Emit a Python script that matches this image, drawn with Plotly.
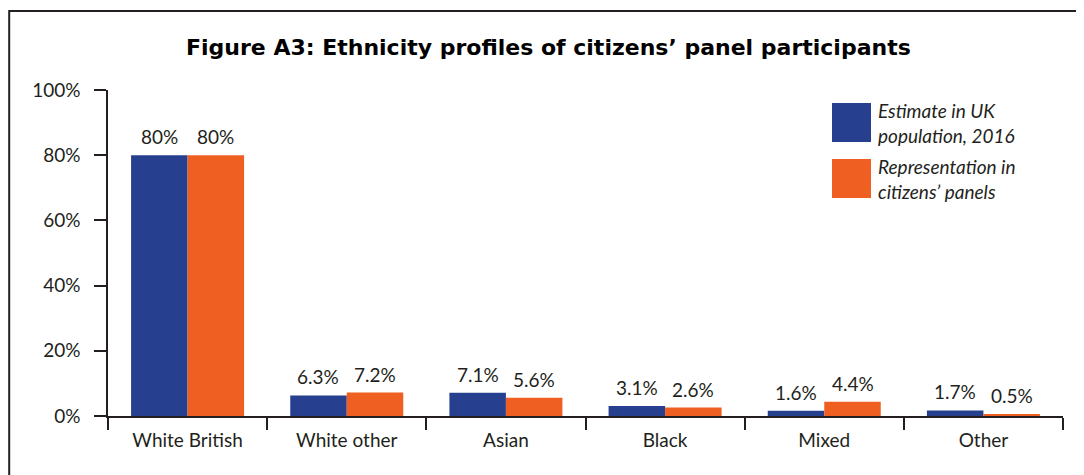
import plotly.graph_objects as go

categories = ["White British", "White other", "Asian", "Black", "Mixed", "Other"]
uk_population = [80, 6.3, 7.1, 3.1, 1.6, 1.7]
panel_representation = [80, 7.2, 5.6, 2.6, 4.4, 0.5]
series_names = ["Estimate in UK<br>population, 2016", "Representation in<br>citizens’ panels"]
y_ticks = [0, 20, 40, 60, 80, 100]
y_tick_labels = ["0%", "20%", "40%", "60%", "80%", "100%"]

BLUE = "#26408F"
ORANGE = "#F05F22"
INK = "#231F20"
FONT = "Lato, 'DejaVu Sans', sans-serif"
TITLE_FONT = "'DejaVu Sans', sans-serif"
FS = 19

OFF = 8  # page body margin offset
W, H = 1084 - OFF, 475 - OFF
L, R, T, B = 108 - OFF, 21, 90 - OFF, 59
pw, ph = W - L - R, H - T - B
BARGAP = 0.29

def px(x):
    return (x - OFF - L) / pw

def py(y):
    return (H - B - (y - OFF)) / ph

bar_w = pw / len(categories) * (1 - BARGAP) / 2

fig = go.Figure()
annotations = []
for k, (vals, color, name) in enumerate([(uk_population, BLUE, series_names[0]),
                                         (panel_representation, ORANGE, series_names[1])]):
    fig.add_trace(go.Bar(
        x=categories, y=vals, name=name, marker=dict(color=color, line=dict(width=0)),
        showlegend=False, hoverinfo="x+y",
    ))
    sign = -1 if k == 0 else 1
    for c, v in zip(categories, vals):
        annotations.append(dict(
            text=f"{v:g}%", xref="x", yref="y", x=c, y=v, xanchor="center", yanchor="bottom",
            xshift=sign * bar_w / 2, yshift=5, showarrow=False,
            font=dict(family=FONT, size=FS, color=INK)))

shapes = [
    dict(type="rect", xref="paper", yref="paper", x0=px(9.2), x1=px(1095), y0=py(490), y1=py(11),
         line=dict(color=INK, width=2), fillcolor="rgba(0,0,0,0)", layer="below"),
    dict(type="rect", xref="paper", yref="paper", x0=px(832), x1=px(871), y0=py(142), y1=py(103),
         line=dict(width=0), fillcolor=BLUE),
    dict(type="rect", xref="paper", yref="paper", x0=px(832), x1=px(871), y0=py(198), y1=py(159),
         line=dict(width=0), fillcolor=ORANGE),
]
annotations += [
    dict(text="<b>Figure A3: Ethnicity profiles of citizens’ panel participants</b>",
         xref="paper", yref="paper", x=px(548), y=py(47), xanchor="center", yanchor="middle",
         showarrow=False, font=dict(family=TITLE_FONT, size=22, color="#000000")),
    dict(text=f"<i>{series_names[0]}</i>", xref="paper", yref="paper", x=px(876), y=py(122.5),
         xanchor="left", yanchor="middle", align="left", showarrow=False,
         font=dict(family=FONT, size=FS, color=INK)),
    dict(text=f"<i>{series_names[1]}</i>", xref="paper", yref="paper", x=px(876), y=py(178.5),
         xanchor="left", yanchor="middle", align="left", showarrow=False,
         font=dict(family=FONT, size=FS, color=INK)),
]

fig.update_layout(
    width=W, height=H, margin=dict(l=L, r=R, t=T, b=B, autoexpand=False),
    paper_bgcolor="white", plot_bgcolor="white",
    barmode="group", bargap=BARGAP, bargroupgap=0,
    shapes=shapes, annotations=annotations,
    font=dict(family=FONT, size=FS, color=INK),
)
fig.update_yaxes(range=[0, 100], tickvals=y_ticks, ticktext=y_tick_labels,
                 showgrid=False, zeroline=False, showline=True, linecolor=INK, linewidth=1.5,
                 ticks="outside", ticklen=12, tickwidth=1.5, tickcolor=INK,
                 ticklabelstandoff=10, tickfont=dict(family=FONT, size=FS, color=INK))
fig.update_xaxes(showgrid=False, showline=True, linecolor=INK, linewidth=1.5,
                 ticks="outside", tickson="boundaries", ticklen=12, tickwidth=1.5, tickcolor=INK,
                 ticklabelstandoff=6, tickfont=dict(family=FONT, size=FS, color=INK))

fig.write_html("out.html")
